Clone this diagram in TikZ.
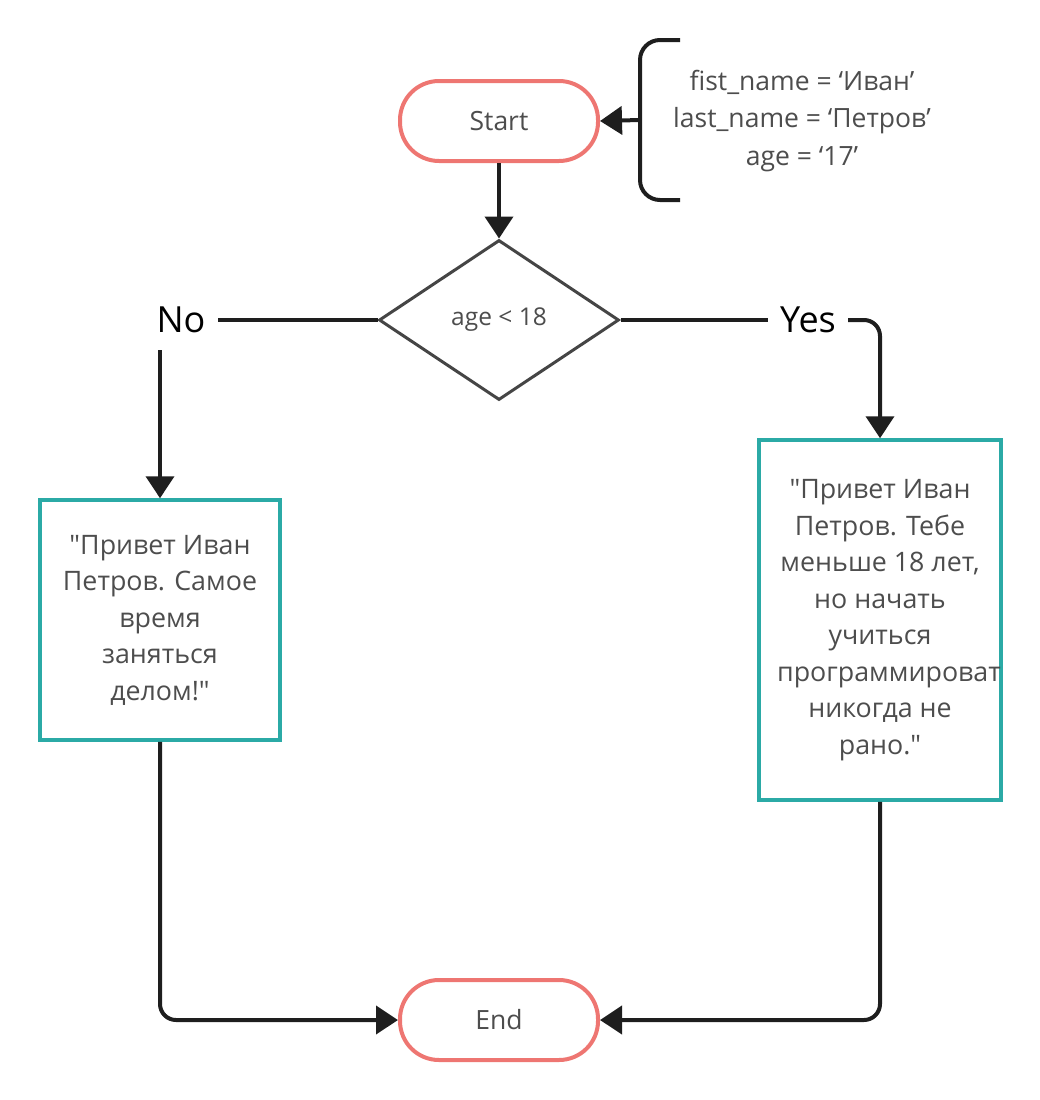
\documentclass[tikz,border=0pt]{standalone}
\usepackage{fontspec}
\setmainfont{Open Sans}
\usetikzlibrary{arrows.meta,shapes.geometric}
\definecolor{termc}{HTML}{EE7672}
\definecolor{procc}{HTML}{2BAAA6}
\definecolor{txtc}{HTML}{4D4D4D}
\definecolor{linec}{HTML}{1E1E1E}
\definecolor{decc}{HTML}{454545}
\newcommand{\dq}{\textquotedbl}
\begin{document}
\begin{tikzpicture}[x=1pt,y=-1pt,
  term/.style={draw=termc,line width=4pt,rounded corners=39pt,minimum width=198pt,minimum height=80pt,inner sep=0pt,text=txtc,font=\fontsize{26.5}{30}\selectfont},
  dec/.style={diamond,draw=decc,line width=3pt,minimum width=240pt,minimum height=160pt,inner sep=0pt,text=txtc,font=\fontsize{24.5}{28}\selectfont},
  proc/.style={draw=procc,line width=3.5pt,minimum width=240pt,inner sep=0pt,text=txtc,align=center,font=\fontsize{26.8}{36.5}\selectfont},
  note/.style={text=txtc,align=center,font=\fontsize{26.5}{37.5}\selectfont},
  lbl/.style={font=\fontsize{36}{40}\selectfont,text=black,inner sep=12pt},
  conn/.style={draw=linec,line width=4pt},
  arr/.style={conn,-{Triangle[length=22pt,width=28pt]}},
]
\useasboundingbox (0,0) rectangle (1040,1100);

\node[term] (start) at (499,121) {Start};
\node[note] (vars) at (802,121) {fist\_name = ‘Иван’\\last\_name = ‘Петров’\\age = ‘17’};
\draw[conn,rounded corners=20pt] (680,40) -- (640,40) -- (640,200) -- (680,200);
\coordinate (bracemid) at (640,120);
\draw[arr] (bracemid) -- (start.east);

\node[dec] (dec) at (499,320) {age < 18};
\draw[arr] (start.south) -- (dec.north);

\node[lbl] (no) at (181,320) {No};
\node[lbl] (yes) at (808,320) {Yes};

\node[proc,minimum height=240pt] (leftbox) at (160,620) {\dq Привет Иван\\Петров. Самое\\время\\заняться\\делом!\dq};
\node[proc,minimum height=360pt] (rightbox) at (880,620) {\dq Привет Иван\\Петров. Тебе\\меньше 18 лет,\\но начать\\учиться\\\hspace*{18pt}программироват\\никогда не\\рано.\dq};

\node[term] (end) at (499,1020) {End};

\draw[conn] (dec.west) -- (no.east);
\coordinate (nodrop) at (160,350);
\draw[arr] (nodrop) -- (leftbox.north);
\draw[conn] (dec.east) -- (yes.west);
\draw[arr,rounded corners=16pt] (yes.east) -| (rightbox.north);
\draw[arr,rounded corners=16pt] (leftbox.south) |- (end.west);
\draw[arr,rounded corners=16pt] (rightbox.south) |- (end.east);
\end{tikzpicture}
\end{document}
